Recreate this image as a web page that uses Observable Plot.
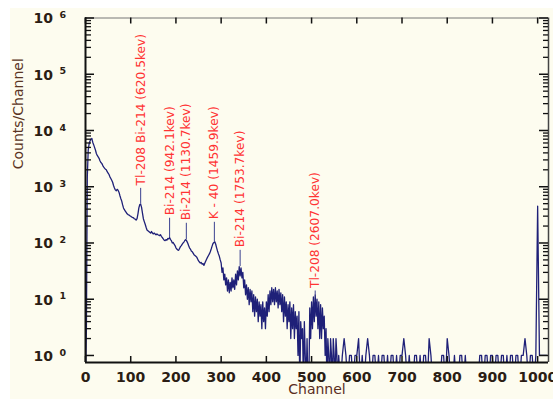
<!DOCTYPE html>
<html><head><meta charset="utf-8">
<script src="https://cdn.jsdelivr.net/npm/d3@7"></script>
<script src="https://cdn.jsdelivr.net/npm/@observablehq/plot@0.6"></script>
<style>
html,body{margin:0;padding:0;background:#ffffff;}
#chart{position:absolute;left:10px;top:8px;width:543px;height:391px;background:#fdfcef;overflow:hidden;}
#chart svg{position:absolute;left:0;top:0;}
</style></head><body><div id="chart"></div>
<script>
// Spectrum counts, channels 0..558 every 2 channels
const lowStep = 2;
const lowCounts = [
  0, 3, 1500, 4500, 5800, 6500, 7000, 7200, 6200, 5600,
  5000, 4500, 3900, 3600, 3400, 3200, 2900, 2700, 2600, 2400,
  2250, 2150, 2050, 2000, 1850, 1750, 1650, 1500, 1400, 1300,
  1200, 1050, 950, 880, 850, 900, 870, 800, 700, 620,
  560, 480, 420, 390, 370, 350, 330, 320, 315, 305,
  300, 290, 285, 280, 270, 265, 255, 270, 330, 420,
  480, 490, 430, 340, 270, 240, 215, 190, 170, 165,
  160, 155, 150, 160, 150, 145, 150, 145, 140, 145,
  140, 138, 135, 140, 130, 125, 118, 112, 110, 115,
  112, 120, 118, 125, 115, 110, 100, 102, 95, 90,
  82, 78, 75, 74, 80, 86, 90, 95, 100, 105,
  112, 115, 108, 100, 90, 82, 78, 72, 70, 66,
  62, 60, 58, 56, 52, 48, 46, 44, 45, 42,
  43, 40, 44, 48, 52, 56, 60, 64, 70, 78,
  88, 98, 102, 105, 95, 82, 72, 64, 58, 50,
  44, 30, 36, 22, 28, 18, 24, 14, 22, 13,
  20, 14, 24, 16, 22, 15, 28, 18, 32, 22,
  38, 26, 36, 24, 30, 16, 22, 12, 18, 10,
  16, 8, 15, 9, 14, 6, 12, 5, 11, 6,
  10, 4, 9, 5, 8, 3, 9, 4, 7, 3,
  9, 5, 12, 6, 14, 8, 16, 9, 15, 8,
  16, 9, 14, 7, 15, 8, 13, 6, 12, 4,
  11, 5, 9, 3, 8, 4, 9, 2, 7, 3,
  8, 2, 6, 3, 5, 1, 6, 0, 4, 2,
  3, 0, 4, 1, 0, 2, 0, 0, 7, 2,
  9, 3, 11, 4, 12, 5, 10, 3, 9, 2,
  8, 2, 7, 3, 5, 1, 3, 0, 2, 1,
  0, 2, 1, 0, 2, 1, 0, 2, 1, 0
];
// Spectrum counts, channels 560..1020 every 4 channels
const highStart = 560, highStep = 4;
const highCounts = [
  1, 0, 1, 2, 1, 0, 1, 1, 0, 1,
  1, 2, 0, 1, 0, 1, 2, 1, 0, 1,
  1, 0, 1, 0, 1, 1, 0, 1, 0, 1,
  1, 0, 1, 0, 1, 1, 2, 1, 0, 1,
  0, 0, 1, 1, 0, 1, 0, 1, 1, 0,
  2, 1, 0, 0, 0, 0, 0, 1, 1, 0,
  2, 1, 0, 0, 1, 0, 0, 1, 1, 0,
  1, 0, 0, 0, 0, 0, 0, 0, 1, 1,
  0, 1, 1, 0, 1, 1, 0, 1, 1, 0,
  1, 1, 0, 1, 0, 1, 1, 0, 1, 1,
  0, 1, 1, 2, 1, 0, 1, 1, 0, 1,
  450, 1, 1, 1, 1, 1
];

// Peak annotations
const peakLabels = ["Tl-208 Bi-214 (620.5kev)", "Bi-214 (942.1kev)", "Bi-214 (1130.7kev)", "K - 40 (1459.9kev)", "Bi-214 (1753.7kev)", "Tl-208 (2607.0kev)"];
const peakChannels = [122, 186, 223, 285, 342, 508];
const peakCounts = [490, 125, 115, 105, 38, 12];
const labelCounts = [935, 275, 224, 233, 74, 14];

// Axis ticks
const xTicks = [0, 100, 200, 300, 400, 500, 600, 700, 800, 900, 1000];
const xTickLabels = ["0", "100", "200", "300", "400", "500", "600", "700", "800", "900", "1000"];
const yMajor = [1, 10, 100, 1000, 10000, 100000, 1000000];
const yExponents = ["0", "1", "2", "3", "4", "5", "6"];
const yMinor = [];
for (const m of yMajor.slice(0, -1)) for (const k of [2,3,4,5,6,7,8,9]) yMinor.push(m * k);

const xDomain = [0, 1024];
const yDomain = [0.75, 1e6];

const W = 543, H = 391, mL = 75, mT = 9.5, mR = 5, mB = 37;
const fw = W - mL - mR, fh = H - mT - mB;

const spectrum = [
  ...lowCounts.map((c, i) => ({ch: i * lowStep, c})),
  ...highCounts.map((c, i) => ({ch: highStart + i * highStep, c}))
];
const peaks = peakLabels.map((label, i) => ({label, ch: peakChannels[i], peak: peakCounts[i], top: labelCounts[i]}));
const yLab = yMajor.map((v, i) => ({v, e: yExponents[i]}));
const xLab = xTicks.map((v, i) => ({v, t: xTickLabels[i]}));

const tickColor = "#2b1d14";
const axisStroke = "#111";
const font = "DejaVu Sans";

const base = {
  width: W, height: H,
  marginLeft: mL, marginTop: mT, marginRight: mR, marginBottom: mB,
  style: {background: "transparent", fontFamily: font, overflow: "visible"},
  x: {domain: xDomain, axis: null},
  y: {type: "log", domain: yDomain, axis: null}
};

const chart = Plot.plot({
  ...base,
  marks: [
    Plot.line(spectrum, {x: "ch", y: d => d.c > 0 ? d.c : 0.3, stroke: "#1f2078", strokeWidth: 1.3, clip: true}),
    Plot.ruleX(peaks, {x: "ch", y1: "peak", y2: "top", stroke: "#3a4190", strokeWidth: 1}),
    Plot.text(peaks, {x: "ch", y: "top", text: "label", rotate: -90, textAnchor: "start", dy: -3, fill: "#ff3333", fontSize: 12.2, fontFamily: font}),
    // frame
    Plot.ruleY([yDomain[1]], {stroke: "#777", strokeWidth: 1}),
    Plot.ruleX([xDomain[1]], {stroke: "#444", strokeWidth: 1.5}),
    Plot.ruleX([xDomain[0]], {stroke: "#111", strokeWidth: 2}),
    Plot.ruleY([yDomain[0]], {stroke: "#111", strokeWidth: 2}),
    // x tick labels
    Plot.text(xLab, {x: "v", frameAnchor: "bottom", text: "t", lineAnchor: "top", dy: 10, fontSize: 14, fontWeight: "bold", fill: tickColor, fontFamily: font}),
    // y tick labels 10^n
    Plot.text(yLab, {y: "v", frameAnchor: "left", text: () => "10", textAnchor: "start", dx: -52, dy: 1, fontSize: 14, fontWeight: "bold", fill: tickColor, fontFamily: font}),
    Plot.text(yLab, {y: "v", frameAnchor: "left", text: "e", textAnchor: "start", dx: -26, dy: -3, fontSize: 9.5, fontWeight: "bold", fill: tickColor, fontFamily: font}),
    // axis titles
    Plot.text(["Counts/Channel"], {frameAnchor: "left", text: d => d, rotate: -90, dx: -67, dy: -21, fontSize: 14, fill: "#5a3422", fontFamily: font}),
    Plot.text(["Channel"], {frameAnchor: "bottom", text: d => d, dy: 31, fontSize: 14, fill: "#5a2d1e", fontFamily: font})
  ]
});

// Inward ticks, drawn on an overlay with the same scales
const overlay = Plot.plot({
  ...base,
  marks: [
    Plot.tickX(xTicks, {x: d => d, insetTop: fh - 6, stroke: axisStroke, strokeWidth: 1.5}),
    Plot.tickX(xTicks, {x: d => d, insetBottom: fh - 6, stroke: axisStroke, strokeWidth: 1.5}),
    Plot.tickY(yMajor, {y: d => d, insetRight: fw - 9, stroke: axisStroke, strokeWidth: 1.5}),
    Plot.tickY(yMinor, {y: d => d, insetRight: fw - 6, stroke: axisStroke, strokeWidth: 1.3}),
    Plot.tickY(yMajor, {y: d => d, insetLeft: fw - 9, stroke: axisStroke, strokeWidth: 1.5}),
    Plot.tickY(yMinor, {y: d => d, insetLeft: fw - 5, stroke: axisStroke, strokeWidth: 1.3})
  ]
});
const host = document.getElementById("chart");
host.appendChild(chart);
host.appendChild(overlay);
</script></body></html>
